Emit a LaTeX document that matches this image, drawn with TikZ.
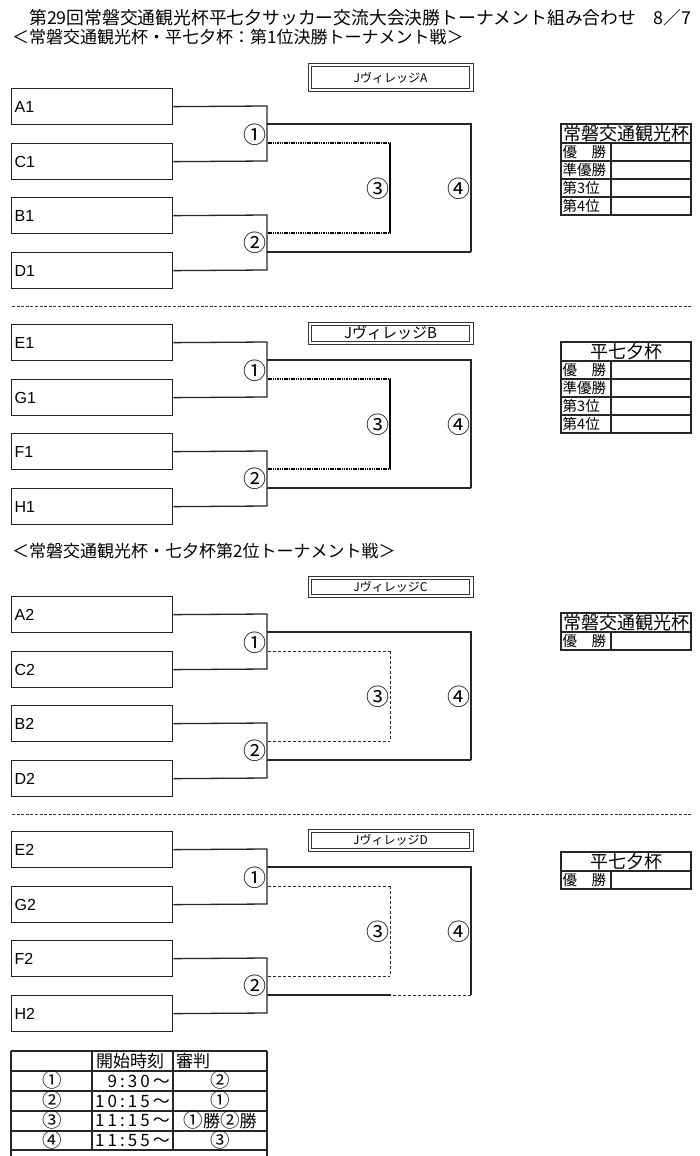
\documentclass[tikz,border=0pt]{standalone}
\usepackage{fontspec}
\setmainfont{Liberation Sans}
\newfontfamily\jp{Noto Sans CJK JP}
\newcommand\fs[1]{\fontsize{#1}{#1}\selectfont}
\newcommand\cnum[1]{{\fs{19.5}#1}}
\tikzset{
  ln/.style={draw=black!85, line width=1.3pt},
  tl/.style={draw=black!85, line width=1.1pt},
  team/.style={ln, rectangle, minimum height=36pt, text width=155pt, inner xsep=3pt, inner ysep=0pt, align=left, font=\fs{16}},
  num/.style={font=\jp\fs{23}, inner sep=0pt},
  thickdot/.style={draw=black, line width=1.7pt, dash pattern=on 1.5pt off 0.8pt},
  thickv/.style={draw=black, line width=2.4pt},
  thindash/.style={draw=black!85, line width=1pt, dash pattern=on 3pt off 2pt},
  sep/.style={draw=black!80, line width=1pt, dash pattern=on 3pt off 1.6pt},
  cell/.style={font=\jp\fs{17}, inner sep=0pt}
}
% bracket section: #1 prefix, #2 top y, #3-#6 team labels, #7 third-horizontal style, #8 third-vertical style
\newcommand\bsec[8]{%
  \node[team, anchor=north west] (#1t1) at (11,#2) {#3};
  \node[team, anchor=north west] (#1t2) at (11,#2+55) {#4};
  \node[team, anchor=north west] (#1t3) at (11,#2+109) {#5};
  \node[team, anchor=north west] (#1t4) at (11,#2+164) {#6};
  \coordinate (#1p1) at (267,#2+18);
  \coordinate (#1p2) at (267,#2+73);
  \coordinate (#1q1) at (267,#2+127);
  \coordinate (#1q2) at (267,#2+182);
  \draw[ln] (#1t1.east) -- (#1p1) -- (#1p2) -- (#1t2.east);
  \draw[ln] (#1t3.east) -- (#1q1) -- (#1q2) -- (#1t4.east);
  \coordinate (#1f1) at (267,#2+36);
  \coordinate (#1f2) at (471,#2+36);
  \coordinate (#1f3) at (471,#2+164);
  \coordinate (#1f4) at (267,#2+164);
  \coordinate (#1fm) at (391,#2+164);
  \draw[ln] (#1f1) -- (#1f2) -- (#1f3);
  \coordinate (#1s1) at (268,#2+55);
  \coordinate (#1s2) at (390,#2+55);
  \coordinate (#1s3) at (390,#2+145);
  \coordinate (#1s4) at (268,#2+145);
  \draw[#7] (#1s1) -- (#1s2);
  \draw[#7] (#1s4) -- (#1s3);
  \draw[#8] (#1s2) -- (#1s3);
  \node[num] (#1m1) at (255,#2+47) {①};
  \node[num] (#1m2) at (255,#2+155) {②};
  \node[num] (#1m3) at (378,#2+101) {③};
  \node[num] (#1m4) at (459,#2+101) {④};
}
% title box: #1 prefix, #2 top, #3 bottom, #4 text, #5 font size
\newcommand\tbox[5]{%
  \draw[draw=black!80, line width=1pt] (308,#2) rectangle (473,#3);
  \draw[draw=black!80, line width=1pt] (311.5,#2+3) rectangle (469.5,#3-3);
  \node[font=\jp\fs{#5}, inner sep=0pt] (#1ttl) at (390.5,{(#2+#3)/2}) {#4};
}
% result table: #1 prefix, #2 top, #3 header, #4 rows count, #5 labels
\newcommand\rtable[5]{%
  \node[font=\jp\fs{18}, inner sep=0pt] (#1hd) at (626,#2+9.5) {#3};
  \draw[tl] (561,#2) rectangle (691,#2+19+18*#4);
  \draw[tl] (611,#2+19) -- (611,#2+19+18*#4);
  \foreach \lab [count=\k] in {#5} {
    \draw[tl] (561,#2+1+18*\k) -- (691,#2+1+18*\k);
    \node[font=\jp\fs{14.5}, anchor=west, inner sep=0pt] (#1r\k) at (562.5,#2+10+18*\k) {\lab};
  }
}
\begin{document}
\begin{tikzpicture}[x=1pt,y=-1pt]
\path[use as bounding box, fill=white] (0,0) rectangle (700,1156);

% titles
\node[font=\jp\fs{17.8}, anchor=west, inner sep=0pt] (title1) at (29,18) {第29回常磐交通観光杯平七夕サッカー交流大会決勝トーナメント組み合わせ\hspace{17pt}8／7};
\node[font=\jp\fs{17}, anchor=west, inner sep=0pt] (title2) at (12,37) {＜常磐交通観光杯・平七夕杯：第1位決勝トーナメント戦＞};

% section A
\tbox{a}{64}{91}{JヴィレッジA}{12}
\bsec{a}{88}{A1}{C1}{B1}{D1}{thickdot}{thickv}
\draw[ln] (af3) -- (af4);
\rtable{at}{124}{常磐交通観光杯}{4}{優　勝,準優勝,第3位,第4位}

% separator
\coordinate (sepL1) at (12,306);
\coordinate (sepR1) at (692,306);
\draw[sep] (sepL1) -- (sepR1);

% section B
\tbox{b}{322}{344}{JヴィレッジB}{15}
\bsec{b}{324}{E1}{G1}{F1}{H1}{thickdot}{thickv}
\draw[ln] (bf3) -- (bf4);
\rtable{bt}{342}{平七夕杯}{4}{優　勝,準優勝,第3位,第4位}

\node[font=\jp\fs{17}, anchor=west, inner sep=0pt] (title3) at (12,551) {＜常磐交通観光杯・七夕杯第2位トーナメント戦＞};

% section C
\tbox{c}{576}{597}{JヴィレッジC}{12}
\bsec{c}{596}{A2}{C2}{B2}{D2}{thindash}{thindash}
\draw[ln] (cf3) -- (cf4);
\rtable{ct}{613}{常磐交通観光杯}{1}{優　勝}

% separator
\coordinate (sepL2) at (12,814);
\coordinate (sepR2) at (692,814);
\draw[sep] (sepL2) -- (sepR2);

% section D
\tbox{d}{829}{851}{JヴィレッジD}{12}
\bsec{d}{831}{E2}{G2}{F2}{H2}{thindash}{thindash}
\draw[thindash] (df3) -- (dfm);
\draw[ln] (dfm) -- (df4);
\rtable{dt}{852}{平七夕杯}{1}{優　勝}

% schedule table
\draw[tl] (11,1051) -- (11,1156);
\draw[tl] (267,1051) -- (267,1156);
\draw[tl] (92,1051) -- (92,1150);
\draw[tl] (173,1051) -- (173,1150);
\foreach \yy in {1051,1071,1091,1111,1131,1150} {
  \draw[tl] (11,\yy) -- (267,\yy);
}
\node[cell, anchor=west] (h2) at (96,1061) {開始時刻};
\node[cell, anchor=west] (h3) at (176,1061) {審判};
\node[cell] (s1a) at (52,1080) {\cnum{①}};
\node[cell] (s2a) at (52,1100) {\cnum{②}};
\node[cell] (s3a) at (52,1120) {\cnum{③}};
\node[cell] (s4a) at (52,1140) {\cnum{④}};
\node[cell, anchor=east] (s1b) at (170,1081) {\addfontfeature{LetterSpace=18}9:30～};
\node[cell, anchor=east] (s2b) at (170,1101) {\addfontfeature{LetterSpace=18}10:15～};
\node[cell, anchor=east] (s3b) at (170,1121) {\addfontfeature{LetterSpace=18}11:15～};
\node[cell, anchor=east] (s4b) at (170,1141) {\addfontfeature{LetterSpace=18}11:55～};
\node[cell] (s1c) at (220,1080) {\cnum{②}};
\node[cell] (s2c) at (220,1100) {\cnum{①}};
\node[cell] (s3c) at (220,1120.5) {\cnum{①}勝\cnum{②}勝};
\node[cell] (s4c) at (220,1140) {\cnum{③}};
\end{tikzpicture}
\end{document}
